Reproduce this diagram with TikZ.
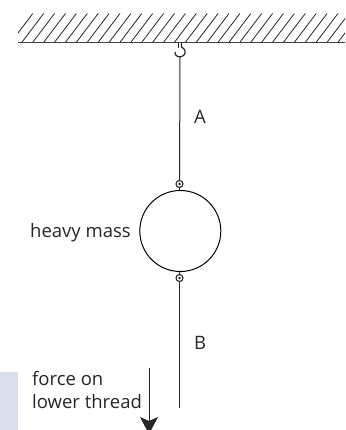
\documentclass[tikz,border=0pt]{standalone}
\usepackage{fontspec}
\setmainfont{Open Sans}
\usetikzlibrary{arrows.meta, positioning, calc}
\definecolor{panelblue}{HTML}{D9E0EC}

\begin{document}
\begin{tikzpicture}[
    x=1pt, y=-1pt,
    >=Stealth,
    font=\fontsize{18.5}{23}\selectfont,
    wire/.style={line width=1pt, black!85},
    massnode/.style={draw, circle, minimum size=81pt, inner sep=0pt, line width=1pt},
    ringnode/.style={draw, circle, minimum size=7pt, inner sep=0pt, line width=1.1pt, black!85},
    hatch/.style={line width=0.8pt, black!85},
    lbl/.style={inner sep=0pt, text=black!85},
]
\useasboundingbox (0,0) rectangle (345,430);

% === Side panel ===
\fill[panelblue] (0,372) rectangle (18,430);

% === Ceiling ===
\begin{scope}
\clip (18,10) rectangle (345,43);
\foreach \x in {0,...,30}
    \draw[hatch] ({21.7+10.9*\x},42.5) -- ({43.7+10.9*\x},13.5);
\draw[hatch] (10.8,42.5) -- (32.8,13.5);
\end{scope}
\draw[line width=1.5pt, black!75] (18,42.5) -- (345,42.5);

% === Hook ===
\coordinate (hook) at (180,57);
\draw[line width=1.2pt, black!85] (178.5,43) -- (178.5,48);
\draw[line width=1.2pt, black!85] (181.5,43) -- (181.5,47)
    .. controls (185.5,49) and (186.5,53) .. (183.5,55.5)
    .. controls (180,58.5) and (174.5,56.5) .. (175,52);

% === Mass and rings ===
\node[massnode] (mass) at (180.3,231) {};
\node[ringnode] (ringA) at (179.5,184) {};
\node[ringnode] (ringB) at (179.5,278) {};
\fill[black!85] (ringA) circle (1.4pt);
\fill[black!85] (ringB) circle (1.4pt);
\coordinate (endB) at (179.5,408);

% === Threads ===
\draw[wire] (hook) -- (ringA);
\draw[wire] (ringA) -- (mass);
\draw[wire] (mass) -- (ringB);
\draw[wire] (ringB) -- (endB);

% === Force arrow ===
\coordinate (forcetop) at (149,368);
\coordinate (forcetip) at (149,434);
\draw[wire, -{Stealth[length=17pt, width=18pt, inset=4pt]}] (forcetop) -- (forcetip);

% === Labels ===
\node[lbl, anchor=base] (labelA) at (200,124) {A};
\node[lbl, anchor=base] (labelB) at (200,349) {B};
\node[lbl, anchor=base west] (labelmass) at (30,237) {heavy mass};
\node[lbl, anchor=base west] (labelforce1) at (32,385) {force on};
\node[lbl, anchor=base west] (labelforce2) at (32,408) {lower thread};

\end{tikzpicture}
\end{document}
